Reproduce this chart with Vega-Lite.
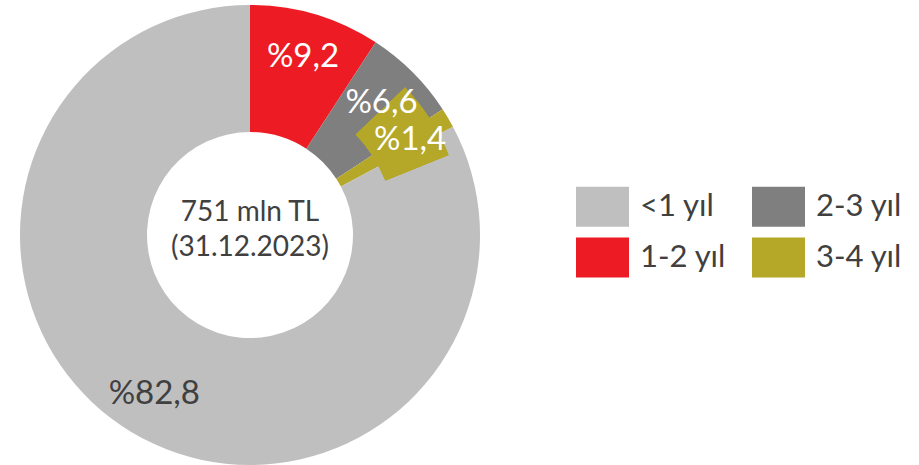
{
  "$schema": "https://vega.github.io/schema/vega-lite/v6.json",
  "width": 500,
  "height": 470,
  "padding": 0,
  "background": "white",
  "config": {"view": {"stroke": null}, "font": "Lato"},
  "data": {"values": [
    {"cat": "1-2 yıl", "share": 9.2, "lab": "%9,2", "ord": 1},
    {"cat": "2-3 yıl", "share": 6.6, "lab": "%6,6", "ord": 2},
    {"cat": "3-4 yıl", "share": 1.4, "lab": "%1,4", "ord": 3},
    {"cat": "<1 yıl", "share": 82.8, "lab": "%82,8", "ord": 4}
  ]},
  "layer": [
    {
      "mark": {"type": "arc", "outerRadius": 230, "innerRadius": 103},
      "encoding": {
        "theta": {"field": "share", "type": "quantitative", "stack": true},
        "order": {"field": "ord", "type": "quantitative"},
        "color": {
          "field": "cat", "type": "nominal",
          "scale": {"domain": ["<1 yıl", "1-2 yıl", "2-3 yıl", "3-4 yıl"], "range": ["#BFBFBF", "#ED1C24", "#7F7F7F", "#B5A727"]},
          "legend": {
            "orient": "none", "legendX": 576, "legendY": 180, "title": null,
            "columns": 2, "columnPadding": 25, "rowPadding": 4, "padding": 0,
            "symbolType": "M-1,-0.755H1V0.755H-1Z", "symbolSize": 2809,
            "symbolStrokeWidth": 0, "symbolOpacity": 1,
            "labelFont": "Lato", "labelFontSize": 31, "labelColor": "#404040",
            "labelOffset": 11, "labelLimit": 300
          }
        }
      }
    },
    {
      "mark": {"type": "arc", "outerRadius": 214, "innerRadius": 146, "color": "#B5A727"},
      "encoding": {
        "theta": {"datum": 12.9},
        "theta2": {"datum": 18.9}
      }
    },
    {
      "mark": {"type": "text", "radius": 186, "font": "Lato", "fontSize": 33, "baseline": "middle"},
      "encoding": {
        "theta": {"field": "share", "type": "quantitative", "stack": true},
        "order": {"field": "ord", "type": "quantitative"},
        "text": {"field": "lab", "type": "nominal"},
        "color": {"condition": {"test": "datum.cat === '<1 yıl'", "value": "#404040"}, "value": "white"}
      }
    },
    {
      "data": {"values": [{"t": "751 mln TL\n(31.12.2023)"}]},
      "mark": {"type": "text", "font": "Lato", "fontSize": 28, "color": "#404040", "lineBreak": "\n", "lineHeight": 35, "baseline": "middle", "dy": -22},
      "encoding": {"text": {"field": "t", "type": "nominal"}}
    }
  ]
}
